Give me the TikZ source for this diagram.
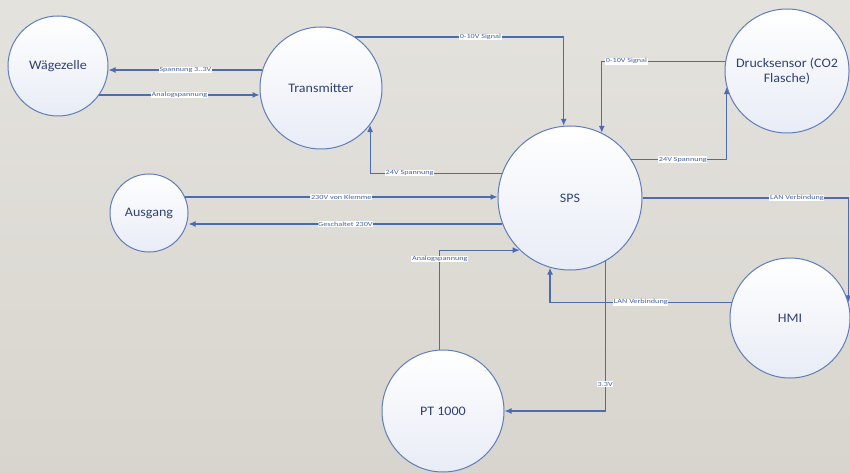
\documentclass[tikz,border=0pt]{standalone}
\usepackage{fontspec}
\setmainfont{Carlito}
\newfontfamily\lblfont[FakeStretch=1.3]{Carlito}
\newfontfamily\unitfont[FakeStretch=1.08]{Carlito}
\usetikzlibrary{arrows.meta}
\definecolor{bgtop}{HTML}{E4E2DD}
\definecolor{bgbot}{HTML}{D8D5CE}
\definecolor{linec}{HTML}{4A6CB0}
\definecolor{circc}{HTML}{5F7DBA}
\definecolor{txtc}{HTML}{2F4270}
\definecolor{lblc}{HTML}{4563A8}
\definecolor{circb}{HTML}{E8ECF6}
\begin{document}
\begin{tikzpicture}[x=1pt,y=-1pt,
  unit/.style={circle,draw=circc,line width=1pt,top color=white,bottom color=circb,
    text=txtc,font=\unitfont\fontsize{13}{15}\selectfont,align=center,inner sep=0pt},
  conn/.style={draw=linec,line width=1.2pt,-{Latex[length=7pt,width=6pt]}},
  lbl/.style={fill=white,text=lblc,font=\lblfont\fontsize{6.3}{7}\selectfont,inner sep=0.6pt}]
\shade[top color=bgtop,bottom color=bgbot] (0,0) rectangle (850,473);
\useasboundingbox (0,0) rectangle (850,473);

\node[unit,minimum size=100pt] (W) at (58,66) {Wägezelle};
\node[unit,minimum size=122pt] (T) at (321,88) {Transmitter};
\node[unit,minimum size=124pt] (D) at (787,71) {Drucksensor (CO2\\Flasche)};
\node[unit,minimum size=144pt] (S) at (570,198) {SPS};
\node[unit,minimum size=78pt] (A) at (149,213) {Ausgang};
\node[unit,minimum size=120pt] (H) at (790,318) {HMI};
\node[unit,minimum size=122pt] (P) at (443,411) {PT 1000};

\draw[conn] (T.163) -- node[lbl]{Spannung 3..3V} (T.163 -| W.east);
\draw[conn] (W.-35) -- node[lbl]{Analogspannung} (W.-35 -| T.west);
\draw[conn] (T.56) -| node[lbl,pos=0.3]{0-10V Signal} (S.95);
\draw[conn] (D.171) -| node[lbl,pos=0.4]{0-10V Signal} (S.64);
\draw[conn] (S.32) -| node[lbl,pos=0.27]{24V Spannung} (D.195);
\draw[conn] (S.160) -| node[lbl,pos=0.35]{24V Spannung} (T.-37);
\draw[conn] (A.24) -- node[lbl]{230V von Klemme} (A.24 -| S.west);
\draw[conn] (S.201) -- node[lbl]{Geschaltet 230V} (S.201 -| A.east);
\draw[conn] (S.east) -| node[lbl,pos=0.375]{LAN Verbindung} (H.15);
\draw[conn] (H.165) -| node[lbl,pos=0.25]{LAN Verbindung} (S.-106);
\draw[conn] (P.93) |- node[lbl,pos=0.455]{Analogspannung} (S.226);
\draw[conn] (S.-61) |- node[lbl,pos=0.41]{3.3V} (P.east);
\end{tikzpicture}
\end{document}
